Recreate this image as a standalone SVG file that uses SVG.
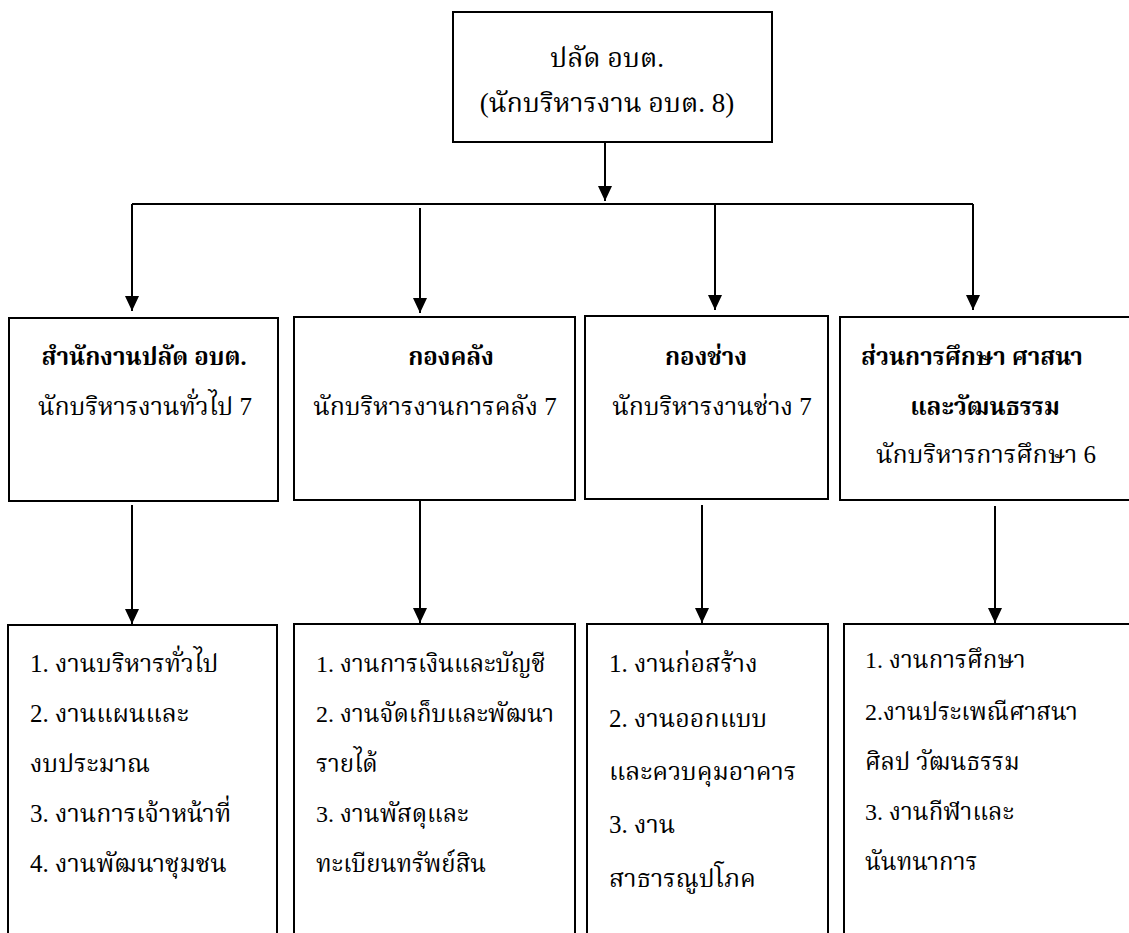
<svg xmlns="http://www.w3.org/2000/svg" width="1129" height="933" viewBox="0 0 1129 933">
<defs>
<style>
.box{fill:#fff;stroke:#000;stroke-width:2}
.con{fill:none;stroke:#000;stroke-width:2}
text{font-family:'Liberation Serif','Kinnari','Norasi','Noto Serif Thai','Noto Sans Thai',serif;font-size:25px;fill:#000}
.b{font-weight:bold;font-size:24px}
.c{text-anchor:middle}
.t{font-size:27px}
.m{font-size:24px}
</style>
<marker id="ah" viewBox="0 0 15 14" refX="15" refY="7" markerWidth="15" markerHeight="14" markerUnits="userSpaceOnUse" orient="auto">
<path d="M0,0 L15,7 L0,14 z" fill="#000"/>
</marker>
</defs>
<rect width="1129" height="933" fill="#fff"/>
<g id="connectors">
<path class="con" d="M605,142 V201" marker-end="url(#ah)"/>
<path class="con" d="M132,204 H973"/>
<path class="con" d="M132,204 V311" marker-end="url(#ah)"/>
<path class="con" d="M420,208 V313" marker-end="url(#ah)"/>
<path class="con" d="M715,204 V310" marker-end="url(#ah)"/>
<path class="con" d="M973,204 V310" marker-end="url(#ah)"/>
<path class="con" d="M132,505 V624" marker-end="url(#ah)"/>
<path class="con" d="M420,501 V623" marker-end="url(#ah)"/>
<path class="con" d="M702,505 V623" marker-end="url(#ah)"/>
<path class="con" d="M995,506 V623" marker-end="url(#ah)"/>
</g>
<g id="top">
<rect class="box" x="453" y="12" width="319" height="130"/>
<text class="c t" x="607" y="67">ปลัด อบต.</text>
<text class="c t" x="607" y="112">(นักบริหารงาน อบต. 8)</text>
</g>
<g id="mid1">
<rect class="box" x="9" y="318" width="269" height="183"/>
<text class="c b" x="144" y="365">สำนักงานปลัด อบต.</text>
<text class="c" x="145" y="415">นักบริหารงานทั่วไป 7</text>
</g>
<g id="mid2">
<rect class="box" x="294" y="317" width="281" height="183"/>
<text class="c b" x="451" y="365">กองคลัง</text>
<text class="c" x="435" y="415">นักบริหารงานการคลัง 7</text>
</g>
<g id="mid3">
<rect class="box" x="585" y="316" width="243" height="183"/>
<text class="c b" x="706" y="365">กองช่าง</text>
<text class="c" x="712" y="415">นักบริหารงานช่าง 7</text>
</g>
<g id="mid4">
<rect class="box" x="840" y="317" width="300" height="183"/>
<text class="b" x="861" y="365">ส่วนการศึกษา ศาสนา</text>
<text class="c b" x="985" y="415">และวัฒนธรรม</text>
<text class="c" x="986" y="463">นักบริหารการศึกษา 6</text>
</g>
<g id="bot1">
<rect class="box" x="8" y="625" width="269" height="320"/>
<text x="30" y="672">1. งานบริหารทั่วไป</text>
<text x="30" y="722">2.  งานแผนและ</text>
<text x="30" y="772">งบประมาณ</text>
<text x="30" y="822">3. งานการเจ้าหน้าที่</text>
<text x="30" y="872">4. งานพัฒนาชุมชน</text>
</g>
<g id="bot2">
<rect class="box" x="294" y="624" width="281" height="320"/>
<text class="m" x="316" y="672">1. งานการเงินและบัญชี</text>
<text class="m" x="316" y="722">2. งานจัดเก็บและพัฒนา</text>
<text class="m" x="316" y="772">รายได้</text>
<text class="m" x="316" y="822">3.  งานพัสดุและ</text>
<text class="m" x="316" y="872">ทะเบียนทรัพย์สิน</text>
</g>
<g id="bot3">
<rect class="box" x="587" y="624" width="241" height="320"/>
<text x="609" y="672">1. งานก่อสร้าง</text>
<text x="609" y="727">2. งานออกแบบ</text>
<text x="609" y="780">และควบคุมอาคาร</text>
<text x="609" y="833">3. งาน</text>
<text x="609" y="887">สาธารณูปโภค</text>
</g>
<g id="bot4">
<rect class="box" x="844" y="624" width="300" height="320"/>
<text class="m" x="865" y="668">1. งานการศึกษา</text>
<text class="m" x="865" y="720">2.งานประเพณีศาสนา</text>
<text class="m" x="865" y="770">ศิลป วัฒนธรรม</text>
<text class="m" x="865" y="820">3. งานกีฬาและ</text>
<text class="m" x="865" y="870">นันทนาการ</text>
</g>
</svg>
